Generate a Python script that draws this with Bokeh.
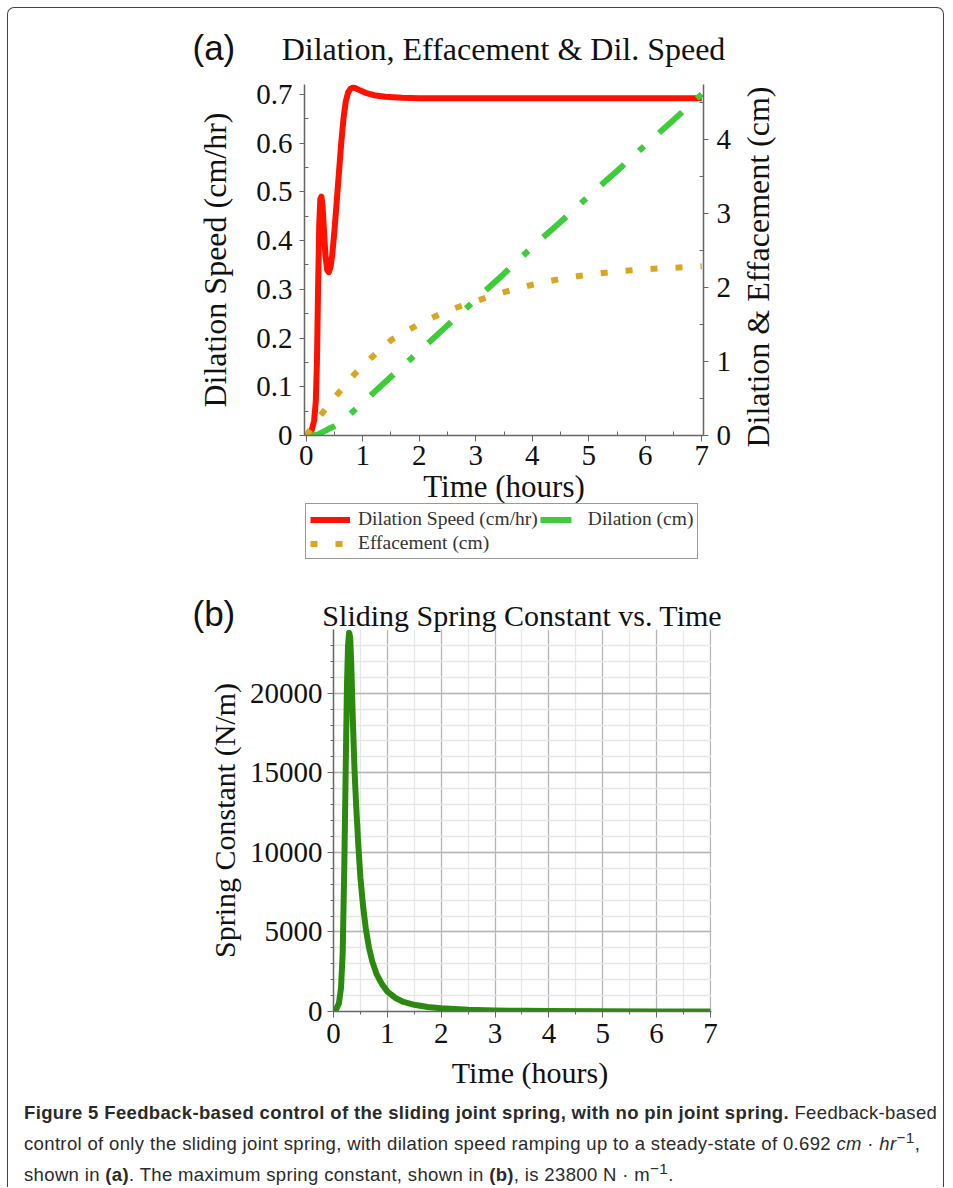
from bokeh.plotting import figure
from bokeh.models import (Range1d, LinearAxis, Legend, LegendItem, Div, FixedTicker)
from bokeh.layouts import column
from bokeh.embed import file_html
from bokeh.resources import INLINE

# ---------------- data: panel (a) ----------------
speed_t = [0, 0.05, 0.10, 0.14, 0.17, 0.19, 0.21, 0.23, 0.25, 0.27, 0.29, 0.31, 0.34, 0.37,
           0.40, 0.43, 0.46, 0.50, 0.54, 0.58, 0.62, 0.66, 0.70, 0.74, 0.78, 0.83, 0.88,
           0.95, 1.05, 1.2, 1.4, 1.7, 2.0, 2.5, 3, 4, 5, 6, 7]
speed_v = [0, 0.004, 0.012, 0.03, 0.07, 0.15, 0.30, 0.43, 0.485, 0.49, 0.47, 0.43, 0.37, 0.34,
           0.335, 0.345, 0.37, 0.42, 0.48, 0.54, 0.60, 0.65, 0.685, 0.703, 0.711, 0.714, 0.712,
           0.708, 0.703, 0.698, 0.695, 0.693, 0.692, 0.692, 0.692, 0.692, 0.692, 0.692, 0.692]

dil_t = [0, 0.1, 0.2, 0.3, 0.4, 0.5, 0.6, 0.7, 0.8, 0.9, 1.0, 1.25, 1.5, 2, 2.5, 3, 3.5, 4,
         4.5, 5, 5.5, 6, 6.5, 7]
dil_v = [0, 0.001, 0.01, 0.05, 0.09, 0.125, 0.17, 0.235, 0.305, 0.375, 0.445, 0.62, 0.795,
         1.14, 1.49, 1.84, 2.19, 2.55, 2.89, 3.24, 3.58, 3.93, 4.27, 4.62]

eff_t = [0, 0.25, 0.5, 0.75, 1, 1.5, 2, 2.5, 3, 3.5, 4, 4.5, 5, 5.5, 6, 6.5, 7]
eff_v = [0, 0.27, 0.51, 0.74, 0.95, 1.29, 1.51, 1.69, 1.82, 1.94, 2.04, 2.12, 2.18, 2.22,
         2.25, 2.27, 2.29]

a_xticks = [0, 1, 2, 3, 4, 5, 6, 7]
a_yticks = [0, 0.1, 0.2, 0.3, 0.4, 0.5, 0.6, 0.7]
a_ylabels = ["0", "0.1", "0.2", "0.3", "0.4", "0.5", "0.6", "0.7"]
a_rticks = [0, 1, 2, 3, 4]

# ---------------- data: panel (b) ----------------
spring_t = [0, 0.05, 0.1, 0.14, 0.17, 0.2, 0.23, 0.25, 0.27, 0.29, 0.31, 0.33, 0.36, 0.39,
            0.42, 0.46, 0.5, 0.55, 0.6, 0.66, 0.72, 0.8, 0.9, 1.0, 1.15, 1.3, 1.5, 1.75,
            2.0, 2.5, 3, 3.5, 4, 5, 6, 7]
spring_k = [0, 150, 500, 1500, 3600, 9000, 16000, 20500, 23000, 23800, 23500, 21800, 18200,
            15200, 13000, 10500, 8400, 6600, 5200, 4000, 3150, 2350, 1720, 1250, 850, 600,
            420, 280, 200, 110, 65, 40, 25, 12, 6, 3]

b_xticks = [0, 1, 2, 3, 4, 5, 6, 7]
b_yticks = [0, 5000, 10000, 15000, 20000]

SERIF = "Liberation Serif"
SANS = "Liberation Sans"
AXC = "#666666"

# shared horizontal layout (frames of the panels are aligned by the column)
LB, RB = 296, 232
WA, WB, B_SHIFT = 927, 906, 29
X0 = 8.5  # left/top edge of the content box on the page


def style_axis(ax, ticks, minor, fs="29px", label_fs="30px", overrides=None,
               maj_out=6, min_in=4, min_out=0, lstand=4, astand=18):
    ax.ticker = FixedTicker(ticks=ticks, minor_ticks=minor)
    ax.axis_line_color = AXC
    ax.axis_line_width = 1.5
    ax.major_tick_line_color = AXC
    ax.minor_tick_line_color = AXC
    ax.major_tick_in = 0
    ax.major_tick_out = maj_out
    ax.minor_tick_in = min_in
    ax.minor_tick_out = min_out
    ax.major_label_text_font = SERIF
    ax.major_label_text_font_size = fs
    ax.major_label_text_color = "#111111"
    ax.major_label_standoff = lstand
    ax.axis_label_text_font = SERIF
    ax.axis_label_text_font_size = label_fs
    ax.axis_label_text_font_style = "normal"
    ax.axis_label_text_color = "#111111"
    ax.axis_label_standoff = astand
    if overrides:
        ax.major_label_overrides = overrides


def title_div(tag, title, title_fs, width, height, tag_left, title_center, baseline,
              extra=""):
    html = (
        f'<div style="position:relative;width:{width}px;height:{height}px;overflow:visible">'
        f'<span style="position:absolute;left:{tag_left}px;top:{baseline - 29.6:.1f}px;'
        f'font-family:\'{SANS}\';font-size:35px;line-height:35px;color:#111;white-space:nowrap">{tag}</span>'
        f'<span style="position:absolute;left:{title_center}px;'
        f'top:{baseline - 0.835 * title_fs:.1f}px;'
        f'transform:translateX(-50%);font-family:\'{SERIF}\';font-size:{title_fs}px;'
        f'line-height:{title_fs}px;color:#111;white-space:nowrap">{title}</span>{extra}</div>'
    )
    return Div(text=html, width=width, height=height, margin=0,
               styles={"overflow": "visible"})


# ---------------- panel (a) ----------------
AX0, AX1 = -0.03, 7.03
AY0, AY1 = 0.0, 0.72
A_TOP, A_H, A_BOT = 10, 351, 80

pa = figure(width=WA, height=A_TOP + A_H + A_BOT, x_range=Range1d(AX0, AX1),
            y_range=Range1d(AY0, AY1), output_backend="svg", toolbar_location=None,
            min_border_left=LB, min_border_right=RB, min_border_top=A_TOP,
            min_border_bottom=A_BOT, margin=0)
pa.outline_line_color = None
pa.xgrid.visible = False
pa.ygrid.visible = False
pa.background_fill_color = None
pa.border_fill_color = None
pa.extra_y_ranges = {"dil": Range1d(0, 4.75)}

pa.line(speed_t, speed_v, color="#ff1100", line_width=6, line_join="round")
pa.line(dil_t, dil_v, y_range_name="dil", color="#3ecc3a", line_width=6,
        line_dash="31 20 7 20")
pa.line(eff_t, eff_v, y_range_name="dil", color="#daa520", line_width=6, line_dash="7 18")

style_axis(pa.xaxis[0], a_xticks, [0.5 + i for i in range(7)], maj_out=6, lstand=4,
           astand=1, label_fs="31px")
pa.xaxis[0].axis_label = "Time (hours)"
style_axis(pa.yaxis[0], a_yticks, [0.05 + 0.1 * i for i in range(7)],
           overrides=dict(zip(a_yticks, a_ylabels)), maj_out=5, lstand=7, astand=20,
           label_fs="32px")
pa.yaxis[0].axis_label = "Dilation Speed (cm/hr)"
ax_r = LinearAxis(y_range_name="dil")
style_axis(ax_r, a_rticks, [0.5 + i for i in range(5)], maj_out=5, lstand=8, astand=3)
pa.add_layout(ax_r, "right")

# ---------------- legend strip for panel (a) ----------------
PL_H = 60
pl = figure(width=WA, height=PL_H, x_range=Range1d(100, 101), y_range=Range1d(100, 101),
            output_backend="svg", toolbar_location=None, x_axis_location=None,
            y_axis_location=None, min_border_left=LB, min_border_right=RB,
            min_border_top=0, min_border_bottom=0, margin=(-15, 0, 0, 0))
pl.outline_line_color = None
pl.grid.visible = False
pl.background_fill_color = None
pl.border_fill_color = None
l_speed = pl.line(speed_t, speed_v, color="#ff1100", line_width=6)
l_dil = pl.line(dil_t, dil_v, color="#3ecc3a", line_width=6, line_dash="31 20 7 20")
l_eff = pl.line(eff_t, eff_v, color="#daa520", line_width=6, line_dash="7 18")
legend = Legend(items=[LegendItem(label="Dilation Speed (cm/hr)", renderers=[l_speed]),
                       LegendItem(label="Effacement (cm)", renderers=[l_eff]),
                       LegendItem(label="Dilation (cm)", renderers=[l_dil])],
                location=(1, 1), ncols=2,
                label_text_font=SERIF, label_text_font_size="19.5px",
                label_text_color="#333333", glyph_width=40, glyph_height=17,
                label_height=17, label_standoff=8, spacing=2, padding=4, margin=0,
                border_line_color="#333333", border_line_width=1.5,
                background_fill_color="white", background_fill_alpha=1.0)
pl.add_layout(legend)

# ---------------- panel (b) ----------------
BX0, BX1 = 0.0, 7.02
BY0, BY1 = 0.0, 24000
B_TOP, B_H, B_BOT = 0, 382, 80

pb = figure(width=WB, height=B_TOP + B_H + B_BOT, x_range=Range1d(BX0, BX1),
            y_range=Range1d(BY0, BY1), output_backend="svg", toolbar_location=None,
            min_border_left=LB, min_border_right=RB, min_border_top=B_TOP,
            min_border_bottom=B_BOT, margin=(0, 0, 0, B_SHIFT))
pb.outline_line_color = None
pb.background_fill_color = None
pb.border_fill_color = None

style_axis(pb.xaxis[0], b_xticks, [0.5 + i for i in range(7)],
           maj_out=6, min_in=0, min_out=3, lstand=6, astand=10)
pb.xaxis[0].axis_label = "\u00a0\u00a0Time (hours)"
style_axis(pb.yaxis[0], b_yticks, [i * 1000 for i in range(24)],
           maj_out=6, min_in=0, min_out=3, lstand=5, astand=6)
pb.yaxis[0].axis_label = "Spring Constant (N/m)"
for g in (pb.xgrid[0], pb.ygrid[0]):
    g.grid_line_color = "#b4b4b4"
    g.grid_line_width = 1.3
    g.minor_grid_line_color = "#e6e6e6"
    g.minor_grid_line_width = 1.3
pb.xgrid[0].ticker = pb.xaxis[0].ticker
pb.ygrid[0].ticker = pb.yaxis[0].ticker

pb.line(spring_t, spring_k, color="#2b8a0e", line_width=6, line_join="round")

# ---------------- titles (and the right-hand axis title of panel a) ----------------
right_label = (
    f'<span style="position:absolute;left:{758 - X0}px;top:{267 - X0}px;'
    f'transform:translate(-50%,-50%) rotate(-90deg);font-family:\'{SERIF}\';'
    f'font-size:32px;line-height:32px;color:#111;white-space:nowrap">'
    f'Dilation &amp; Effacement (cm)</span>'
)
div_a = title_div("(a)", "Dilation, Effacement &amp; Dil. Speed", 32, 935, 66,
                  193 - X0, 504 - X0, 52, extra=right_label)
div_b = title_div("(b)", "Sliding Spring Constant vs. Time", 30, 935, 69,
                  193 - X0, 522.5 - X0, 65.5)

# ---------------- caption ----------------
cap_html = (
    "<div style=\"white-space:nowrap\"><b>Figure 5 Feedback-based control of the sliding joint spring, "
    "with no pin joint spring.</b> Feedback-based</div>"
    "<div style=\"white-space:nowrap\">control of only the sliding joint spring, with dilation speed ramping up "
    "to a steady-state of 0.692 <i>cm</i> &middot; <i>hr</i><sup>&minus;1</sup>,</div>"
    "<div style=\"white-space:nowrap\">shown in <b>(a)</b>. The maximum spring constant, shown in <b>(b)</b>, "
    "is 23800 N &middot; m<sup>&minus;1</sup>.</div>"
)
cap = Div(text=cap_html, width=935, height=96, margin=0,
          styles={"font-family": "'Liberation Sans', sans-serif",
                  "font-size": "18.5px", "letter-spacing": "0.35px",
                  "line-height": "25px", "color": "#2a2a2a",
                  "padding-left": "16px", "padding-top": "9px", "box-sizing": "border-box"})

layout = column(div_a, pa, pl, div_b, pb, cap, spacing=0, margin=(7, 0, 0, 7),
                styles={"border": "1.5px solid #444444", "border-bottom": "none",
                        "border-radius": "7px 7px 0 0"})

open("out.html", "w").write(file_html(layout, INLINE))
